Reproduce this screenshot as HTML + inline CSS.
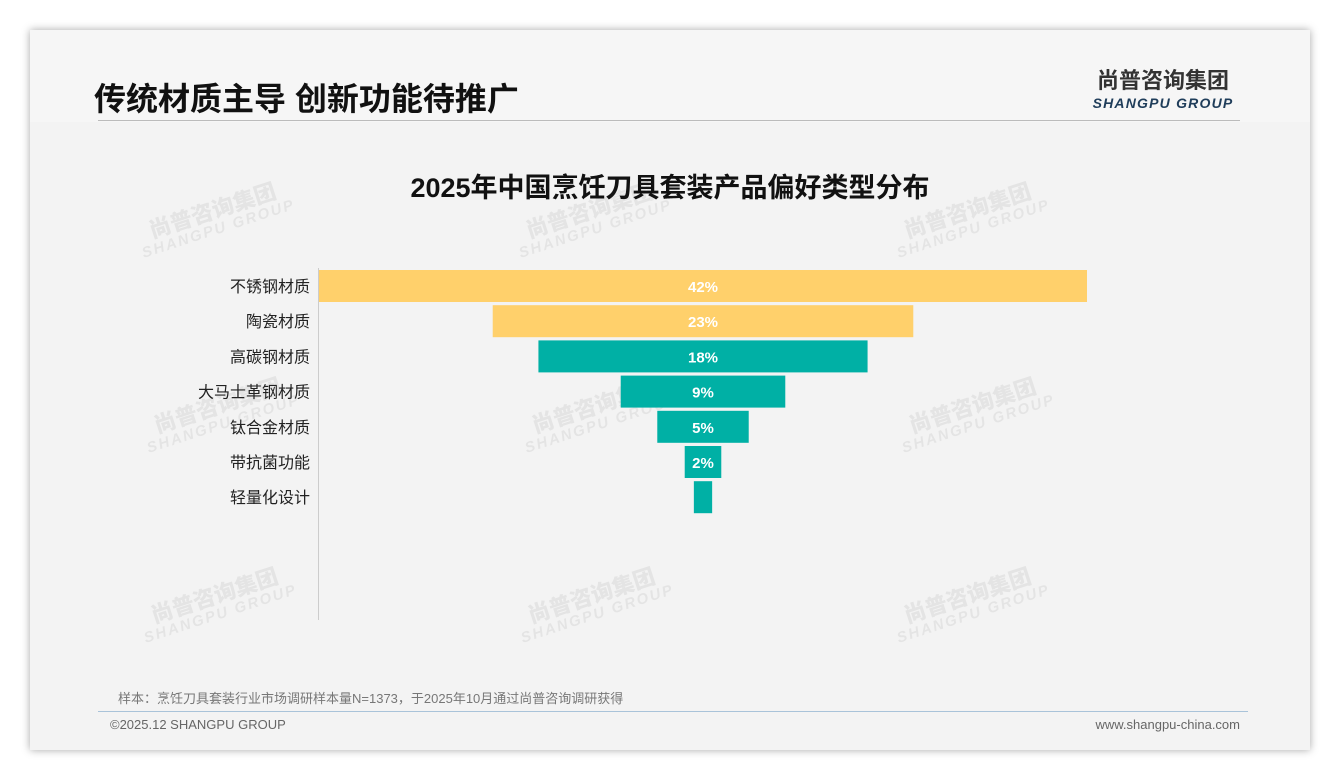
<!DOCTYPE html>
<html><head><meta charset="utf-8"><style>
body{margin:0;width:1340px;height:780px;background:#fff;font-family:"Liberation Sans","Noto Sans CJK SC",sans-serif;position:relative;overflow:hidden}
#card{position:absolute;left:30px;top:30px;width:1280px;height:720px;background:#f3f3f3;box-shadow:0 0 8px rgba(0,0,0,.35)}
.wm{position:absolute;color:rgba(0,0,0,.06);transform:rotate(-18deg);font-weight:bold;text-align:center;line-height:1}
.wm b{display:block;font-size:22px}.wm i{display:block;font-size:15px;font-style:italic;letter-spacing:2px}
</style></head><body>
<div id="card">
<div style="position:absolute;left:0;top:0;width:1280px;height:92px;background:#f6f6f6"></div>
<div style="position:absolute;left:64px;top:44px;font-size:32px;font-weight:bold;color:#111">传统材质主导 创新功能待推广</div>
<div style="position:absolute;left:1058px;top:33px;width:150px;text-align:center">
<div style="font-size:22px;font-weight:bold;color:#333;letter-spacing:0px">尚普咨询集团</div>
<div style="font-size:14px;font-weight:bold;font-style:italic;color:#1f3d5a;letter-spacing:1.2px">SHANGPU GROUP</div></div>
<div style="position:absolute;left:68px;top:90px;width:1142px;height:1px;background:#bbb"></div>
<div style="position:absolute;left:88px;top:658px;font-size:13px;color:#777">样本：烹饪刀具套装行业市场调研样本量N=1373，于2025年10月通过尚普咨询调研获得</div>
<div style="position:absolute;left:68px;top:681px;width:1150px;height:1px;background:#a9c3d9"></div>
<div style="position:absolute;left:80px;top:687px;font-size:13px;color:#666">©2025.12 SHANGPU GROUP</div>
<div style="position:absolute;right:70px;top:687px;font-size:13px;color:#666">www.shangpu-china.com</div>
</div>
<div class="wm" style="left:135px;top:200px"><b>尚普咨询集团</b><i>SHANGPU GROUP</i></div>
<div class="wm" style="left:512px;top:200px"><b>尚普咨询集团</b><i>SHANGPU GROUP</i></div>
<div class="wm" style="left:890px;top:200px"><b>尚普咨询集团</b><i>SHANGPU GROUP</i></div>
<div class="wm" style="left:140px;top:395px"><b>尚普咨询集团</b><i>SHANGPU GROUP</i></div>
<div class="wm" style="left:518px;top:395px"><b>尚普咨询集团</b><i>SHANGPU GROUP</i></div>
<div class="wm" style="left:895px;top:395px"><b>尚普咨询集团</b><i>SHANGPU GROUP</i></div>
<div class="wm" style="left:137px;top:585px"><b>尚普咨询集团</b><i>SHANGPU GROUP</i></div>
<div class="wm" style="left:514px;top:585px"><b>尚普咨询集团</b><i>SHANGPU GROUP</i></div>
<div class="wm" style="left:890px;top:585px"><b>尚普咨询集团</b><i>SHANGPU GROUP</i></div>
<svg id="chart" width="1340" height="780" style="position:absolute;left:0;top:0">
<text x="670" y="197" text-anchor="middle" font-size="27" font-weight="bold" fill="#111">2025年中国烹饪刀具套装产品偏好类型分布</text>
<line x1="318.5" y1="268" x2="318.5" y2="620" stroke="#ccc"/>
</svg>
<script>
const categories=["不锈钢材质","陶瓷材质","高碳钢材质","大马士革钢材质","钛合金材质","带抗菌功能","轻量化设计"];
const values=[42,23,18,9,5,2,1];
const showLabel=[true,true,true,true,true,true,false];
const colorsBy=["#FFD06B","#FFD06B","#00B0A5","#00B0A5","#00B0A5","#00B0A5","#00B0A5"];
const svg=document.getElementById('chart');const NS='http://www.w3.org/2000/svg';
const cx=703,scale=768/42,top0=270,pitch=35.2,bh=32;
const x=v=>v*scale;const y=i=>top0+i*pitch;
categories.forEach((c,i)=>{
 const w=x(values[i]);
 const r=document.createElementNS(NS,'rect');
 r.setAttribute('x',cx-w/2);r.setAttribute('y',y(i));r.setAttribute('width',w);r.setAttribute('height',bh);r.setAttribute('fill',colorsBy[i]);
 
 
 svg.appendChild(r);
 const t=document.createElementNS(NS,'text');
 t.setAttribute('x',310);t.setAttribute('y',y(i)+bh/2+6);t.setAttribute('text-anchor','end');t.setAttribute('font-size','16');t.setAttribute('fill','#222');t.textContent=c;
 
 
 svg.appendChild(t);
 if(showLabel[i]){const v=document.createElementNS(NS,'text');
 v.setAttribute('x',cx);v.setAttribute('y',y(i)+bh/2+6);v.setAttribute('text-anchor','middle');v.setAttribute('font-size','15');v.setAttribute('font-weight','bold');v.setAttribute('fill','#fff');v.textContent=values[i]+'%';
 
 
 svg.appendChild(v);}
});
</script>
</body></html>
